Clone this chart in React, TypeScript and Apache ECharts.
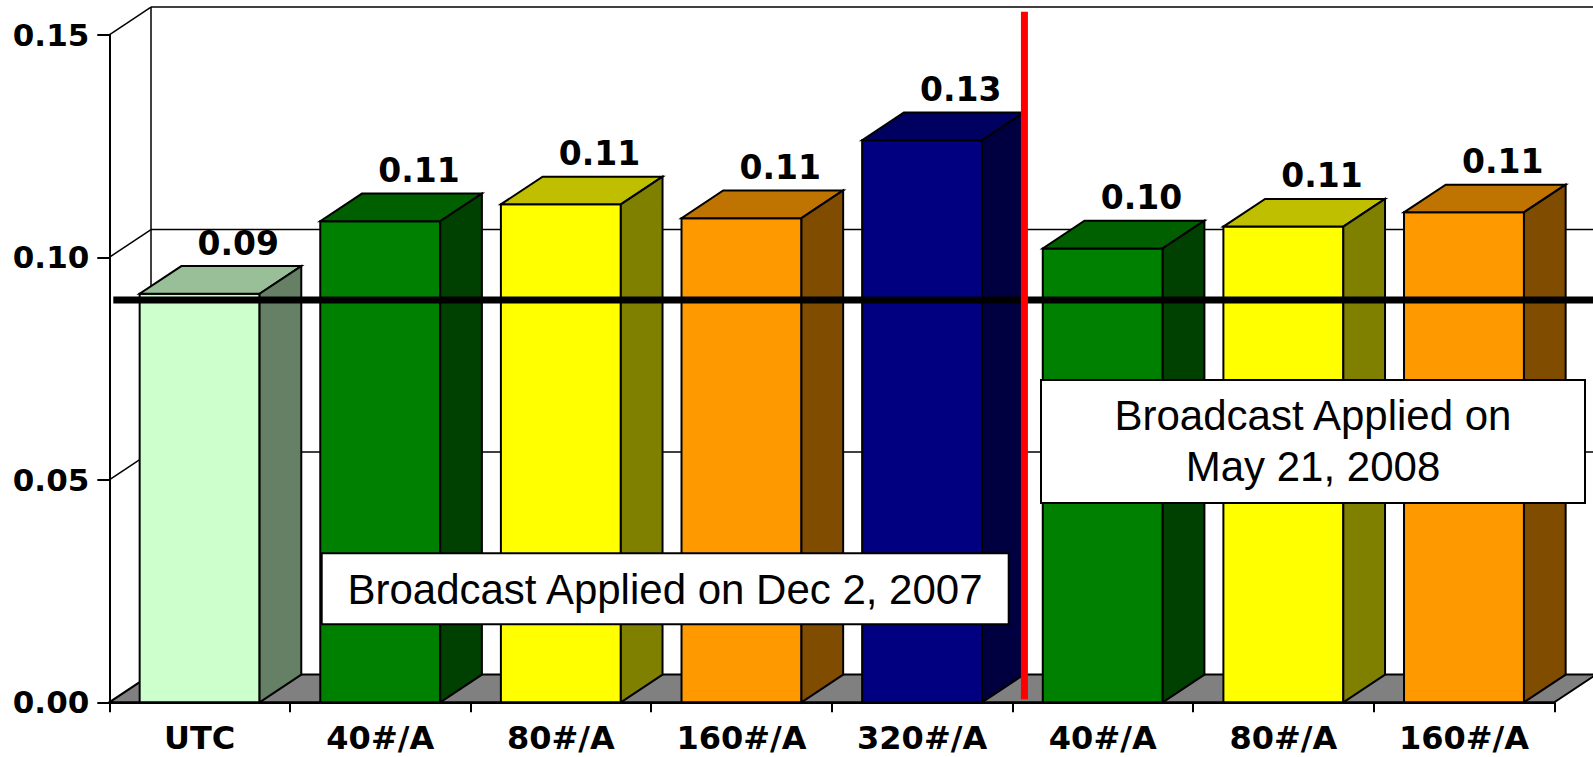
import React, { useEffect, useRef } from "react";
import * as echarts from "echarts";

// ---- data ----
const categories = ["UTC", "40#/A", "80#/A", "160#/A", "320#/A", "40#/A", "80#/A", "160#/A"];
const values = [0.0918, 0.1081, 0.1119, 0.1088, 0.1263, 0.102, 0.1069, 0.1101];
const yTicks = [0, 0.05, 0.1, 0.15];
const referenceValue = 0.0904;
const separatorAfterIndex = 4;
const note2007 = "Broadcast Applied on Dec 2, 2007";
const note2008 = "Broadcast Applied on\nMay 21, 2008";

// ---- styles ----
const frontColors = ["#CCFFCC", "#008000", "#FFFF00", "#FF9900", "#000080", "#008000", "#FFFF00", "#FF9900"];
const topColors = ["#99BF99", "#006000", "#BFBF00", "#BF7300", "#000060", "#006000", "#BFBF00", "#BF7300"];
const sideColors = ["#668066", "#004000", "#808000", "#804C00", "#000040", "#004000", "#808000", "#804C00"];
const DX = 41.7;
const DY = -27.7;
const BOLD = "DejaVu Sans";
const REG = '"Liberation Sans", Arial, sans-serif';

export default function App() {
  const ref = useRef<HTMLDivElement>(null);
  useEffect(() => {
    document.body.style.margin = "0";
    const chart = echarts.init(ref.current!, null, { renderer: "svg" });
    const edge = { stroke: "#000", lineWidth: 2 };
    const option: any = {
      animation: false,
      backgroundColor: "#fff",
      grid: { left: 109.3, right: 38.7, top: 34.8, bottom: 54.7, containLabel: false },
      xAxis: {
        type: "category",
        data: categories,
        axisLine: { show: true, lineStyle: { color: "#000", width: 2 } },
        axisTick: { show: true, length: 10, lineStyle: { color: "#000", width: 2 } },
        axisLabel: {
          margin: 20,
          color: "#000",
          fontFamily: BOLD,
          fontWeight: "bold",
          fontSize: 32,
          interval: 0,
        },
        splitLine: { show: false },
      },
      yAxis: {
        type: "value",
        min: 0,
        max: 0.15,
        interval: 0.05,
        axisLine: { show: true, lineStyle: { color: "#000", width: 2 } },
        axisTick: { show: true, length: 12, lineStyle: { color: "#000", width: 2 } },
        axisLabel: {
          margin: 20,
          color: "#000",
          fontFamily: BOLD,
          fontWeight: "bold",
          fontSize: 31,
          formatter: (v: number) => v.toFixed(2),
        },
        splitLine: { show: false },
      },
      series: [
        {
          type: "custom",
          name: "frame",
          clip: false,
          z: 1,
          silent: true,
          data: yTicks.map((t) => [0, t]),
          encode: { x: 0, y: 1 },
          renderItem: (params: any, api: any) => {
            const cs = params.coordSys;
            const t = api.value(1);
            const y = api.coord([0, t])[1];
            const left = cs.x;
            const right = cs.x + cs.width;
            const bottom = cs.y + cs.height;
            const children: any[] = [];
            if (t === 0) {
              children.push({
                type: "polygon",
                shape: { points: [[left, y], [right, y], [right + DX, y + DY], [left + DX, y + DY]] },
                style: { fill: "#808080", ...edge },
              });
            } else {
              children.push({
                type: "line",
                shape: { x1: left, y1: y, x2: left + DX, y2: y + DY },
                style: { stroke: "#000", lineWidth: 1.5 },
              });
              children.push({
                type: "line",
                shape: { x1: left + DX, y1: y + DY, x2: right + DX + 10, y2: y + DY },
                style: { stroke: "#000", lineWidth: 1.5 },
              });
            }
            if (params.dataIndex === yTicks.length - 1) {
              children.push({
                type: "line",
                shape: { x1: left + DX, y1: y + DY, x2: left + DX, y2: bottom + DY },
                style: { stroke: "#000", lineWidth: 1.5 },
              });
            }
            return { type: "group", children };
          },
        },
        {
          type: "custom",
          name: "bars",
          clip: false,
          z: 2,
          data: values.map((v, i) => [i, v]),
          encode: { x: 0, y: 1 },
          renderItem: (params: any, api: any) => {
            const idx = params.dataIndex;
            const i = api.value(0);
            const v = api.value(1);
            const base = api.coord([i, 0]);
            const topP = api.coord([i, v]);
            const bw = api.size([1, 0])[0] * 0.664;
            const x0 = base[0] - bw / 2;
            const x1 = x0 + bw;
            const yb = base[1];
            const yt = topP[1];
            return {
              type: "group",
              children: [
                {
                  type: "rect",
                  shape: { x: x0, y: yt, width: bw, height: yb - yt },
                  style: { fill: frontColors[idx], ...edge },
                },
                {
                  type: "polygon",
                  shape: { points: [[x0, yt], [x1, yt], [x1 + DX, yt + DY], [x0 + DX, yt + DY]] },
                  style: { fill: topColors[idx], ...edge },
                },
                {
                  type: "polygon",
                  shape: { points: [[x1, yt], [x1 + DX, yt + DY], [x1 + DX, yb + DY], [x1, yb]] },
                  style: { fill: sideColors[idx], ...edge },
                },
                {
                  type: "text",
                  style: {
                    text: v.toFixed(2),
                    x: base[0] + DX - 3,
                    y: yt + DY - 23,
                    align: "center",
                    verticalAlign: "middle",
                    textAlign: "center",
                    textVerticalAlign: "middle",
                    fontFamily: BOLD,
                    fontWeight: "bold",
                    fontSize: 33,
                    fill: "#000",
                  },
                },
              ],
            };
          },
        },
        {
          type: "custom",
          name: "reference",
          clip: false,
          z: 3,
          silent: true,
          data: [[0, referenceValue]],
          encode: { x: 0, y: 1 },
          renderItem: (params: any, api: any) => {
            const cs = params.coordSys;
            const y = api.coord([0, api.value(1)])[1];
            return {
              type: "line",
              shape: { x1: cs.x + 4, y1: y, x2: cs.x + cs.width + DX + 10, y2: y },
              style: { stroke: "#000", lineWidth: 7 },
            };
          },
        },
        {
          type: "custom",
          name: "separator",
          clip: false,
          z: 4,
          silent: true,
          data: [[separatorAfterIndex, 0]],
          encode: { x: 0, y: 1 },
          renderItem: (params: any, api: any) => {
            const cs = params.coordSys;
            const bandW = api.size([1, 0])[0];
            const x = api.coord([api.value(0), 0])[0] + bandW / 2 + 12;
            return {
              type: "line",
              shape: { x1: x, y1: cs.y - 23, x2: x, y2: cs.y + cs.height - 3 },
              style: { stroke: "#FF0000", lineWidth: 7 },
            };
          },
        },
      ],
      graphic: [
        {
          type: "rect",
          z: 100,
          shape: { x: 321.7, y: 553.3, width: 687, height: 71 },
          style: { fill: "#fff", stroke: "#000", lineWidth: 2 },
        },
        {
          type: "text",
          z: 101,
          style: {
            text: note2007,
            x: 665,
            y: 589,
            align: "center",
            verticalAlign: "middle",
            textAlign: "center",
            textVerticalAlign: "middle",
            fontFamily: REG,
            fontSize: 42,
            fill: "#000",
          },
        },
        {
          type: "rect",
          z: 100,
          shape: { x: 1041, y: 380, width: 544, height: 123 },
          style: { fill: "#fff", stroke: "#000", lineWidth: 2 },
        },
        {
          type: "text",
          z: 101,
          style: {
            text: note2008,
            x: 1313,
            y: 441.3,
            align: "center",
            verticalAlign: "middle",
            textAlign: "center",
            textVerticalAlign: "middle",
            lineHeight: 51,
            fontFamily: REG,
            fontSize: 42,
            fill: "#000",
          },
        },
      ],
    };
    chart.setOption(option);
    return () => chart.dispose();
  }, []);
  return (
    <div
      ref={ref}
      style={{ position: "fixed", left: 0, top: 0, width: 1593, height: 757, background: "#fff" }}
    />
  );
}
